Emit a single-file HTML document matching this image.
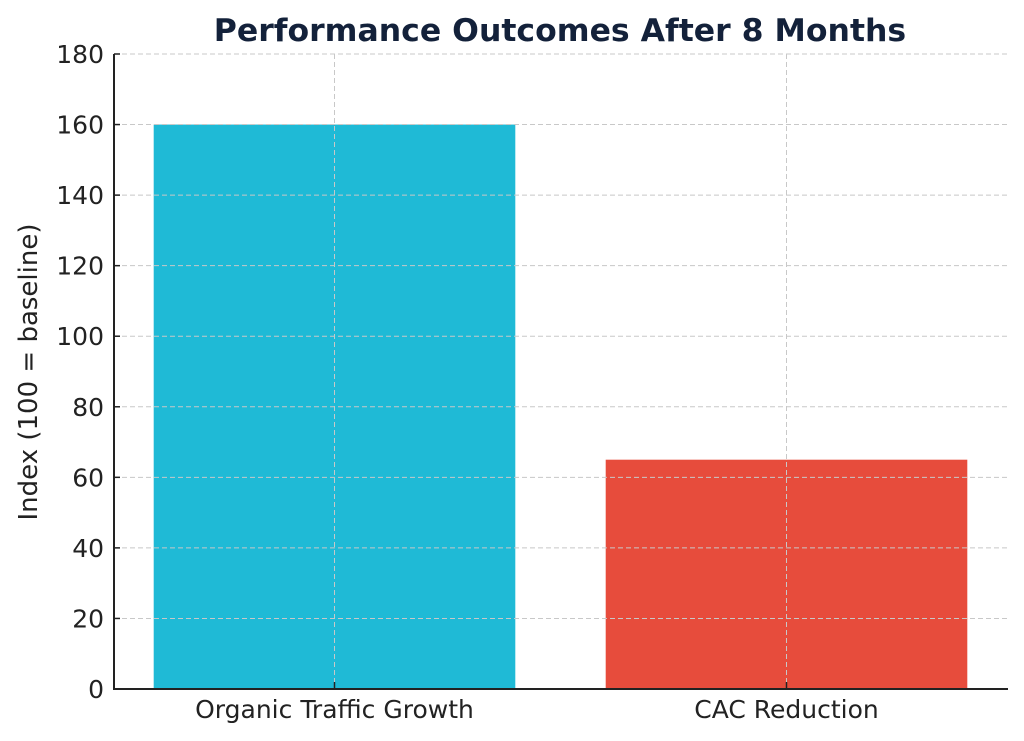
<!DOCTYPE html>
<html><head><meta charset="utf-8"><style>
html,body{margin:0;padding:0;background:#fff;}
svg{display:block;font-family:"DejaVu Sans","Liberation Sans",sans-serif;}
</style></head><body>
<svg id="chart" width="1024" height="741" viewBox="0 0 1024 741">
<text x="560" y="41" text-anchor="middle" font-size="31.5" font-weight="bold" fill="#13213a">Performance Outcomes After 8 Months</text>
<text transform="translate(37,372) rotate(-90)" text-anchor="middle" font-size="26" fill="#222">Index (100 = baseline)</text>
<g id="bars"></g>
<g id="grid"></g>
<g id="axes"></g>
</svg>
<script>
const categories = ["Organic Traffic Growth", "CAC Reduction"];
const values = [160, 65];
const colors = ["#1fbad6", "#e74c3c"];
const yTicks = [0, 20, 40, 60, 80, 100, 120, 140, 160, 180];

const NS = "http://www.w3.org/2000/svg";
const axLeft = 114, axRight = 1008, axTop = 54, axBottom = 689;
const yMax = 180;
const yScale = v => axBottom - v / yMax * (axBottom - axTop);
const step = 452, x0 = 334.5;
const xc = i => x0 + i * step;
const bw = step * 0.8;
function mk(tag, attrs, parent) {
  const e = document.createElementNS(NS, tag);
  for (const k in attrs) e.setAttribute(k, attrs[k]);
  parent.appendChild(e);
  return e;
}
const gb = document.getElementById("bars"), gg = document.getElementById("grid"), ga = document.getElementById("axes");
values.forEach((v, i) => {
  const r = mk("rect", {x: xc(i) - bw / 2, y: yScale(v), width: bw, height: axBottom - yScale(v), fill: colors[i]}, gb);
  
  
});
yTicks.forEach(t => {
  const l = mk("line", {x1: axLeft, x2: axRight, y1: yScale(t), y2: yScale(t), stroke: "#c8c8c8", "stroke-width": 1, "stroke-dasharray": "5,3"}, gg);
  
  
  const tk = mk("line", {x1: axLeft, x2: axLeft + 6, y1: yScale(t), y2: yScale(t), stroke: "#222", "stroke-width": 1.5}, ga);
  
  
  const tx = mk("text", {x: 104, y: yScale(t) + 9, "text-anchor": "end", "font-size": 25, fill: "#222"}, ga);
  tx.textContent = t;
  
  
});
categories.forEach((c, i) => {
  const l = mk("line", {x1: xc(i), x2: xc(i), y1: axTop, y2: axBottom, stroke: "#c8c8c8", "stroke-width": 1, "stroke-dasharray": "5,3"}, gg);
  
  
  const tk = mk("line", {x1: xc(i), x2: xc(i), y1: axBottom, y2: axBottom - 7, stroke: "#222", "stroke-width": 1.5}, ga);
  
  
  const tx = mk("text", {x: xc(i), y: 718, "text-anchor": "middle", "font-size": 25, fill: "#222"}, ga);
  tx.textContent = c;
  
  
});
const ax = mk("line", {x1: axLeft, x2: axLeft, y1: axTop, y2: axBottom, stroke: "#222", "stroke-width": 2}, ga);


const bx = mk("line", {x1: axLeft - 1, x2: axRight, y1: axBottom, y2: axBottom, stroke: "#222", "stroke-width": 2}, ga);


</script>
</body></html>
